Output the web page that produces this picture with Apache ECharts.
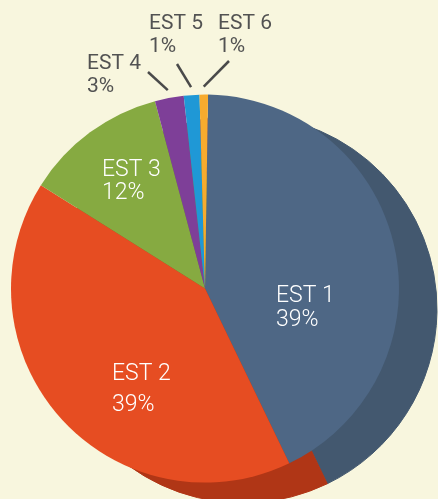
<!DOCTYPE html>
<html lang="en">
<head>
  <meta charset="UTF-8">
  <title>EST pie</title>
  <script src="https://cdn.jsdelivr.net/npm/echarts@6/dist/echarts.min.js"></script>
  <style>
    html, body { margin: 0; padding: 0; background: #f8f6de; }
  </style>
</head>
<body>
  <div id="chart" style="width:438px;height:499px;"></div>

  <script>
    // slice sizes as drawn, and the percentages printed on them
    var categories = ['EST 1', 'EST 2', 'EST 3', 'EST 4', 'EST 5', 'EST 6'];
    var shares = [42.6, 41.1, 11.9, 2.4, 1.3, 0.7];
    var printedPct = ['39%', '39%', '12%', '3%', '1%', '1%'];

    var colors = ['#4e6785', '#e64d22', '#86aa41', '#7e3f98', '#1f98d6', '#f7ab2e'];
    var darkColors = ['#43586f', '#b03616', '#6b8833', '#62307a', '#1878ab', '#c98a24'];

    // where each label sits (x = left edge, y = middle of the block)
    var labelSpots = [
      {x: 276, y: 308, lh: 24.5, size: 23, weight: 300, color: '#ffffff'},
      {x: 112, y: 389.5, lh: 31, size: 23, weight: 300, color: '#ffffff'},
      {x: 102, y: 181.5, lh: 23.5, size: 23, weight: 300, color: '#ffffff'},
      {x: 87, y: 75.5, lh: 23, size: 21, weight: 400, color: '#525252', end: [148, 72]},
      {x: 149, y: 35, lh: 23, size: 21, weight: 400, color: '#525252', end: [177, 64]},
      {x: 218, y: 35, lh: 23, size: 21, weight: 400, color: '#525252', end: [229, 61]}
    ];

    var frontData = categories.map(function (name, i) {
      var spot = labelSpots[i];
      return {
        name: name,
        value: shares[i],
        itemStyle: {color: colors[i]},
        label: {color: spot.color, fontSize: spot.size, fontWeight: spot.weight, lineHeight: spot.lh},
        labelLine: {show: !!spot.end}
      };
    });

    // same color as border so no seam shows between the dark slices
    var backData = categories.map(function (name, i) {
      return {
        name: name,
        value: shares[i],
        itemStyle: {color: darkColors[i], borderColor: darkColors[i], borderWidth: 1}
      };
    });

    var myChart = echarts.init(document.getElementById('chart'));
    var options = {
      backgroundColor: '#f8f6de',
      animation: false,
      series: [
        {
          // the darker "depth" behind the pie
          type: 'pie',
          center: [243, 309],
          radius: 194,
          startAngle: 89.1,
          silent: true,
          label: {show: false},
          labelLine: {show: false},
          data: backData
        },
        {
          type: 'pie',
          center: [205, 288.6],
          radius: 194,
          startAngle: 89.1,
          avoidLabelOverlap: false,
          emphasis: {disabled: true},
          itemStyle: {borderWidth: 0},
          label: {
            position: 'outside',
            fontFamily: 'Roboto, "Open Sans", sans-serif',
            formatter: function (p) {
              return p.name + '\n' + printedPct[p.dataIndex];
            }
          },
          labelLine: {
            length: 8,
            length2: 0,
            lineStyle: {color: '#4a4a4a', width: 2.5}
          },
          labelLayout: function (params) {
            var spot = labelSpots[params.dataIndex];
            var out = {x: spot.x, y: spot.y, align: 'left', verticalAlign: 'middle'};
            if (spot.end && params.labelLinePoints) {
              out.labelLinePoints = [params.labelLinePoints[1], spot.end];
            }
            return out;
          },
          data: frontData
        }
      ]
    };
    myChart.setOption(options);
  </script>
</body>
</html>
